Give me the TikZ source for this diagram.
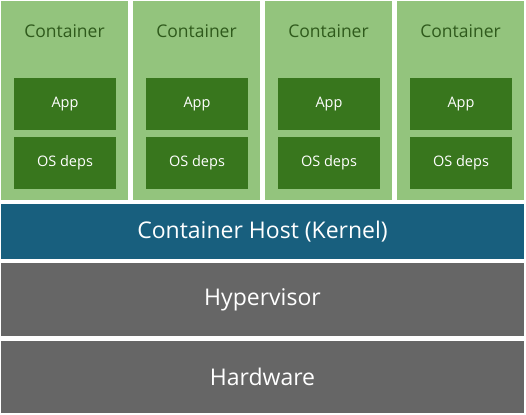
\documentclass[tikz,border=0pt]{standalone}
\usepackage{fontspec}
\setmainfont{Open Sans}

\definecolor{lightgreen}{HTML}{93C47D}
\definecolor{darkgreen}{HTML}{38761D}
\definecolor{labelgreen}{HTML}{2F5A1C}
\definecolor{hostblue}{HTML}{185F7E}
\definecolor{layergray}{HTML}{666666}

\begin{document}
\begin{tikzpicture}
  [x=1pt,y=-1pt,every node/.style={inner sep=0pt,outer sep=0pt}]

  \tikzstyle{container} = [fill=lightgreen,minimum width=127pt,minimum height=199pt]
  \tikzstyle{part}      = [fill=darkgreen,text=white,minimum width=102pt,
                           minimum height=52pt,font=\fontsize{14.5}{17}\selectfont]
  \tikzstyle{layer}     = [text=white,minimum width=523pt,font=\fontsize{23}{27}\selectfont]

  \useasboundingbox (0,0) rectangle (526,414);

  \foreach \i in {1,...,4} {
    \node[container] (c\i) at (-67.5+132*\i,100.5) {};
    \node[text=labelgreen,font=\fontsize{17.5}{21}\selectfont]
          (t\i) at (-67.5+132*\i,31) {Container};
    \node[part] (app\i) at (-67+132*\i,104) {App};
    \node[part] (os\i)  at (-67+132*\i,163) {OS deps};
  }

  \node[layer,fill=hostblue,minimum height=55pt]  (host)  at (262.5,231.5) {Container Host (Kernel)};
  \node[layer,fill=layergray,minimum height=73pt] (hyper) at (262.5,299.5) {Hypervisor};
  \node[layer,fill=layergray,minimum height=72pt] (hw)    at (262.5,377)   {Hardware};
\end{tikzpicture}
\end{document}
